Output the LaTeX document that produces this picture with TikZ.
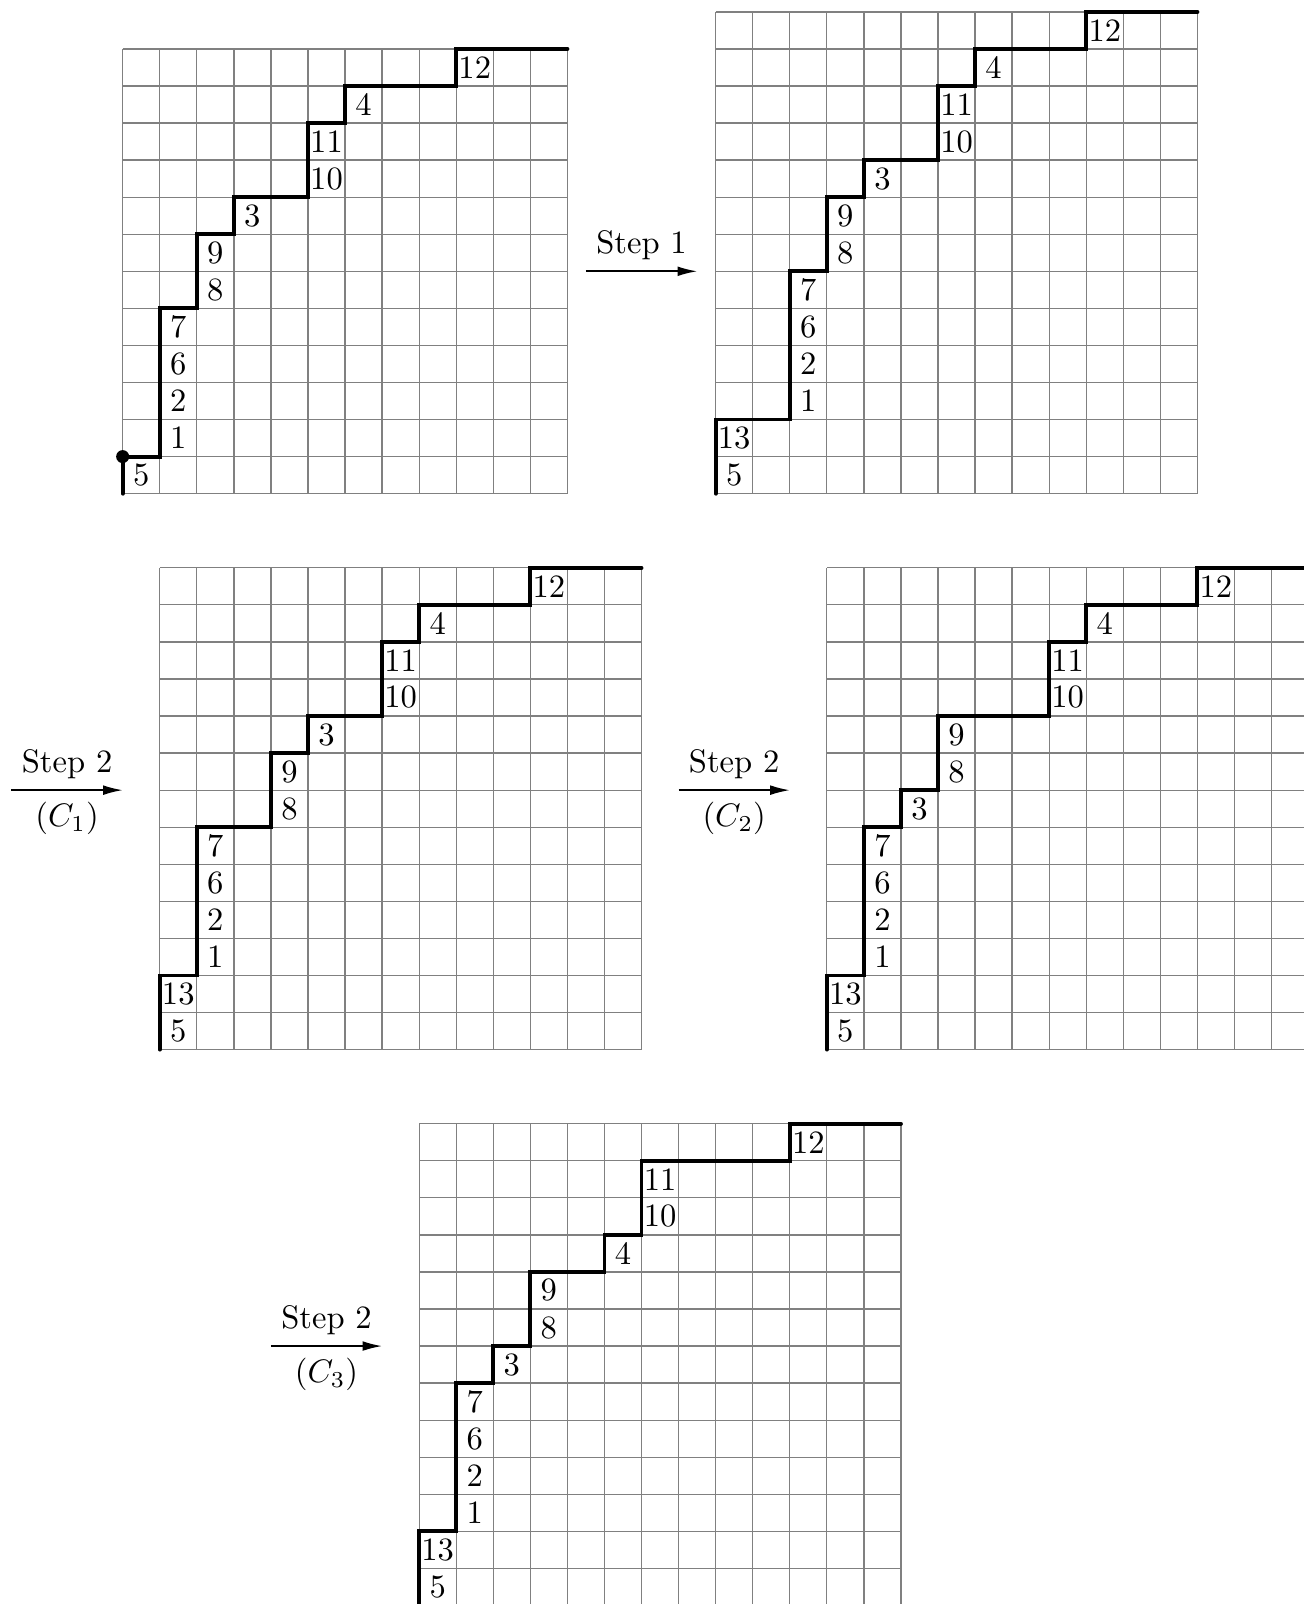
\documentclass[tikz,border=0pt]{standalone}
\usepackage{amsmath}
\usepackage{tikz}
\usetikzlibrary{arrows.meta, positioning}

\begin{document}
\begin{tikzpicture}[
		x=0.4cm, y=0.4cm,
		cellgrid/.style={draw=gray, line width=0.4pt, step=0.4cm},
		lattice/.style={draw=black, very thick, line cap=round},
		lab/.style={inner sep=0pt},
		steparrow/.style={-{Latex[length=6pt, width=3pt]}, line width=0.5pt}
	]
	\useasboundingbox (-3.31, -29.96) rectangle (31.86, 13.32);

	% starting path
	\begin{scope}[shift={(0,0)}]
		\draw[cellgrid] (0,0) grid (12,12);
		\draw[lattice] (0,0) -- ++(0,1) -- ++(1,0) -- ++(0,4) -- ++(1,0) -- ++(0,2)
			-- ++(1,0) -- ++(0,1) -- ++(2,0) -- ++(0,2) -- ++(1,0) -- ++(0,1)
			-- ++(3,0) -- ++(0,1) -- ++(3,0);
		\fill (0,1) circle (2pt);
		\foreach \c/\r/\l in {0/0/5, 1/1/1, 1/2/2, 1/3/6, 1/4/7, 2/5/8, 2/6/9,
				3/7/3, 5/8/10, 5/9/11, 6/10/4, 9/11/12}
			\node[lab] (a\l) at (\c+0.5, \r+0.5) {\l};
	\end{scope}

	% after step 1
	\begin{scope}[shift={(16,0)}]
		\draw[cellgrid] (0,0) grid (13,13);
		\draw[lattice] (0,0) -- ++(0,2) -- ++(2,0) -- ++(0,4) -- ++(1,0) -- ++(0,2)
			-- ++(1,0) -- ++(0,1) -- ++(2,0) -- ++(0,2) -- ++(1,0) -- ++(0,1)
			-- ++(3,0) -- ++(0,1) -- ++(3,0);
		\foreach \c/\r/\l in {0/0/5, 0/1/13, 2/2/1, 2/3/2, 2/4/6, 2/5/7, 3/6/8,
				3/7/9, 4/8/3, 6/9/10, 6/10/11, 7/11/4, 10/12/12}
			\node[lab] (b\l) at (\c+0.5, \r+0.5) {\l};
	\end{scope}

	% after step 2, C_1
	\begin{scope}[shift={(1,-15)}]
		\draw[cellgrid] (0,0) grid (13,13);
		\draw[lattice] (0,0) -- ++(0,2) -- ++(1,0) -- ++(0,4) -- ++(2,0) -- ++(0,2)
			-- ++(1,0) -- ++(0,1) -- ++(2,0) -- ++(0,2) -- ++(1,0) -- ++(0,1)
			-- ++(3,0) -- ++(0,1) -- ++(3,0);
		\foreach \c/\r/\l in {0/0/5, 0/1/13, 1/2/1, 1/3/2, 1/4/6, 1/5/7, 3/6/8,
				3/7/9, 4/8/3, 6/9/10, 6/10/11, 7/11/4, 10/12/12}
			\node[lab] (c\l) at (\c+0.5, \r+0.5) {\l};
	\end{scope}

	% after step 2, C_2
	\begin{scope}[shift={(19,-15)}]
		\draw[cellgrid] (0,0) grid (13,13);
		\draw[lattice] (0,0) -- ++(0,2) -- ++(1,0) -- ++(0,4) -- ++(1,0) -- ++(0,1)
			-- ++(1,0) -- ++(0,2) -- ++(3,0) -- ++(0,2) -- ++(1,0) -- ++(0,1)
			-- ++(3,0) -- ++(0,1) -- ++(3,0);
		\foreach \c/\r/\l in {0/0/5, 0/1/13, 1/2/1, 1/3/2, 1/4/6, 1/5/7, 2/6/3,
				3/7/8, 3/8/9, 6/9/10, 6/10/11, 7/11/4, 10/12/12}
			\node[lab] (d\l) at (\c+0.5, \r+0.5) {\l};
	\end{scope}

	% after step 2, C_3
	\begin{scope}[shift={(8,-30)}]
		\draw[cellgrid] (0,0) grid (13,13);
		\draw[lattice] (0,0) -- ++(0,2) -- ++(1,0) -- ++(0,4) -- ++(1,0) -- ++(0,1)
			-- ++(1,0) -- ++(0,2) -- ++(2,0) -- ++(0,1) -- ++(1,0) -- ++(0,2)
			-- ++(4,0) -- ++(0,1) -- ++(3,0);
		\foreach \c/\r/\l in {0/0/5, 0/1/13, 1/2/1, 1/3/2, 1/4/6, 1/5/7, 2/6/3,
				3/7/8, 3/8/9, 5/9/4, 6/10/10, 6/11/11, 10/12/12}
			\node[lab] (e\l) at (\c+0.5, \r+0.5) {\l};
	\end{scope}

	% arrows between the grids
	\coordinate (s1) at (12.5,6);
	\coordinate (t1) at (15.5,6);
	\coordinate (s2) at (-3,-8);
	\coordinate (t2) at (0,-8);
	\coordinate (s3) at (15,-8);
	\coordinate (t3) at (18,-8);
	\coordinate (s4) at (4,-23);
	\coordinate (t4) at (7,-23);

	\draw[steparrow] (s1) -- (t1) node[midway, above] {Step 1};
	\draw[steparrow] (s2) -- (t2) node[midway, above] {Step 2} node[midway, below] {$(C_1)$};
	\draw[steparrow] (s3) -- (t3) node[midway, above] {Step 2} node[midway, below] {$(C_2)$};
	\draw[steparrow] (s4) -- (t4) node[midway, above] {Step 2} node[midway, below] {$(C_3)$};

\end{tikzpicture}
\end{document}
